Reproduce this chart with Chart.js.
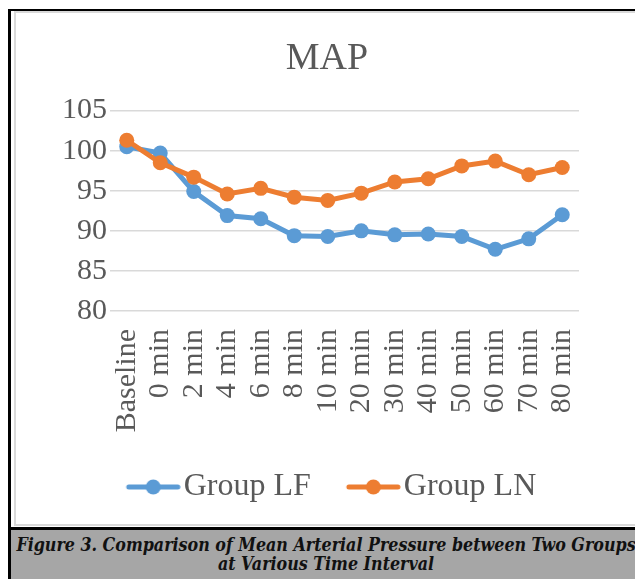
<!DOCTYPE html>
<html>
<head>
<meta charset="utf-8">
<script src="https://cdn.jsdelivr.net/npm/chart.js@4/dist/chart.umd.min.js"></script>
<style>
  html, body { margin: 0; padding: 0; background: #fff; width: 635px; height: 579px; overflow: hidden; }
  #frame { position: absolute; left: 8px; top: 9px; width: 700px; height: 600px;
           border-left: 3px solid #000; border-top: 2px solid #000; }
  #box { position: absolute; left: 14px; top: 11px; width: 700px; height: 511px;
         border-left: 2px solid #d9d9d9; border-top: 2px solid #d9d9d9; border-bottom: 2px solid #d9d9d9; }
  #chart { position: absolute; left: 16px; top: 13px; }
  #caption { position: absolute; left: 11px; top: 527px; width: 630px; height: 52px; box-sizing: border-box;
             padding-top: 5px; border-top: 3px solid #000; background: #a6a6a6; color: #111;
             font-family: "DejaVu Serif Condensed", "DejaVu Serif", serif; font-style: italic; font-weight: bold;
             font-size: 17.7px; line-height: 19px; text-align: center; white-space: nowrap; }
</style>
</head>
<body>
<div id="frame"></div>
<div id="box"></div>
<canvas id="chart" width="619" height="510"></canvas>
<div id="caption">Figure 3. Comparison of Mean Arterial Pressure between Two Groups<br>at Various Time Interval</div>
<script>
// Mean arterial pressure at each time point.
const labels = ["Baseline", "0 min", "2 min", "4 min", "6 min", "8 min", "10 min",
  "20 min", "30 min", "40 min", "50 min", "60 min", "70 min", "80 min"];
const groupLF = [100.5, 99.7, 94.9, 91.9, 91.5, 89.4, 89.3, 90.0, 89.5, 89.6, 89.3, 87.7, 89.0, 92.0];
const groupLN = [101.3, 98.5, 96.7, 94.6, 95.3, 94.2, 93.8, 94.7, 96.1, 96.5, 98.1, 98.7, 97.0, 97.9];
const yTicks = [80, 85, 90, 95, 100, 105];

const BLUE = "#5b9bd5";
const ORANGE = "#ed7d31";
const TEXT = "#595959";
const FONT = "'Liberation Serif', 'Times New Roman', serif";

// Excel-style legend marker: a line with a dot in the middle. The image is
// wider than the legend box so the line sits right up against the label.
function marker(color) {
  const c = document.createElement("canvas");
  c.width = 76; c.height = 18;
  const g = c.getContext("2d");
  g.strokeStyle = color; g.lineWidth = 5; g.lineCap = "round";
  g.beginPath(); g.moveTo(24, 9); g.lineTo(73, 9); g.stroke();
  g.fillStyle = color;
  g.beginPath(); g.arc(48.5, 9, 7.5, 0, Math.PI * 2); g.fill();
  return c;
}
const markers = [marker(BLUE), marker(ORANGE)];

new Chart(document.getElementById("chart"), {
  type: "line",
  data: {
    labels,
    datasets: [
      { label: "Group LF", data: groupLF, borderColor: BLUE, backgroundColor: BLUE, order: 1 },
      { label: "Group LN", data: groupLN, borderColor: ORANGE, backgroundColor: ORANGE, order: 0 },
    ],
  },
  options: {
    responsive: false,
    animation: false,
    layout: { padding: { left: 3, right: 0, top: 0, bottom: 10 } },
    elements: {
      line: { borderWidth: 5, tension: 0 },
      point: { radius: 7.5, borderWidth: 0, hoverRadius: 7.5 },
    },
    plugins: {
      tooltip: { enabled: false },
      title: {
        display: true, text: "MAP", color: TEXT,
        font: { family: FONT, size: 38, weight: "normal" },
        padding: { top: 23, bottom: 29 },
      },
      legend: {
        position: "bottom",
        labels: {
          color: TEXT,
          font: { family: FONT, size: 32 },
          usePointStyle: true,
          pointStyleWidth: 50,
          padding: 27,
          sort: (a, b) => a.datasetIndex - b.datasetIndex,
          generateLabels: (chart) => chart.data.datasets.map((ds, i) => ({
            text: ds.label, pointStyle: markers[i], fillStyle: ds.borderColor,
            strokeStyle: ds.borderColor, lineWidth: 0, fontColor: TEXT, datasetIndex: i, hidden: false,
          })),
        },
      },
    },
    scales: {
      x: {
        offset: true,
        grid: { display: false, drawTicks: false },
        border: { display: false },
        ticks: {
          color: TEXT, font: { family: FONT, size: 30 },
          minRotation: 90, maxRotation: 90, autoSkip: false, padding: 18,
        },
        afterFit: (s) => { s.height = 133; },
      },
      y: {
        min: 80, max: 105,
        afterBuildTicks: (s) => { s.ticks = yTicks.map((v) => ({ value: v })); },
        grid: { color: "#d9d9d9", lineWidth: 1.5, drawTicks: false },
        border: { display: false },
        ticks: { color: TEXT, font: { family: FONT, size: 30 }, padding: 3 },
        afterFit: (s) => { s.width = 91; },
      },
      // empty axis that only reserves the blank strip right of the plot
      right: {
        position: "right",
        grid: { display: false, drawTicks: false },
        border: { display: false },
        ticks: { display: false },
        afterFit: (s) => { s.width = 56; },
      },
    },
  },
});
</script>
</body>
</html>
